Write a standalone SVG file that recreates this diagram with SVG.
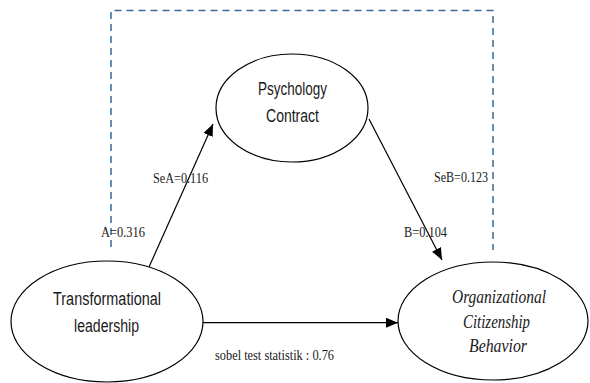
<svg xmlns="http://www.w3.org/2000/svg" width="590" height="383" viewBox="0 0 590 383">
  <style>
    .node { fill: #ffffff; stroke: #000000; stroke-width: 1.2; }
    .sans { font-family: "Liberation Sans", Arial, sans-serif; font-size: 17.5px; fill: #1a1a1a; text-anchor: middle; }
    .ital { font-family: "Liberation Serif", "Times New Roman", serif; font-style: italic; font-size: 18px; fill: #1a1a1a; text-anchor: middle; }
    .lbl { font-family: "Liberation Serif", "Times New Roman", serif; font-size: 15.5px; fill: #1a1a1a; }
    .edge { fill: none; stroke: #000000; stroke-width: 1.2; }
    .dash { fill: none; stroke: #3b6894; stroke-width: 1.5; stroke-dasharray: 7 5; }
  </style>
  <defs>
    <marker id="arrow" markerUnits="userSpaceOnUse" markerWidth="12" markerHeight="10" refX="12" refY="5" orient="auto">
      <path d="M0,0 L12,5 L0,10 Z" fill="#000000"/>
    </marker>
  </defs>
  <rect x="0" y="0" width="590" height="383" fill="#ffffff"/>

  <g id="connectors">
    <path id="dashed-box" class="dash" d="M111,247 L111,10.5 L493,10.5 L493,250"/>
    <line id="edge-tl-pc" class="edge" x1="149" y1="267" x2="213" y2="124" marker-end="url(#arrow)"/>
    <line id="edge-pc-ocb" class="edge" x1="369" y1="119" x2="442" y2="260" marker-end="url(#arrow)"/>
    <line id="edge-tl-ocb" class="edge" x1="203" y1="322.7" x2="398" y2="322.7" marker-end="url(#arrow)"/>
  </g>

  <g id="node-psychology-contract">
    <ellipse class="node" cx="292" cy="108" rx="76" ry="54"/>
    <text class="sans" x="292.5" y="95" textLength="69" lengthAdjust="spacingAndGlyphs">Psychology</text>
    <text class="sans" x="292.5" y="122" textLength="53" lengthAdjust="spacingAndGlyphs">Contract</text>
  </g>

  <g id="node-transformational-leadership">
    <ellipse class="node" cx="107" cy="321.5" rx="96" ry="60.5"/>
    <text class="sans" x="107" y="305" textLength="108" lengthAdjust="spacingAndGlyphs">Transformational</text>
    <text class="sans" x="106.5" y="332" textLength="65" lengthAdjust="spacingAndGlyphs">leadership</text>
  </g>

  <g id="node-ocb">
    <ellipse class="node" cx="493" cy="321" rx="95" ry="59"/>
    <text class="ital" x="499" y="303" textLength="94" lengthAdjust="spacingAndGlyphs">Organizational</text>
    <text class="ital" x="496.5" y="328" textLength="67" lengthAdjust="spacingAndGlyphs">Citizenship</text>
    <text class="ital" x="498" y="352" textLength="58" lengthAdjust="spacingAndGlyphs">Behavior</text>
  </g>

  <g id="labels">
    <text class="lbl" x="153" y="183" textLength="55" lengthAdjust="spacingAndGlyphs">SeA=0.116</text>
    <text class="lbl" x="101" y="237" textLength="44" lengthAdjust="spacingAndGlyphs">A=0.316</text>
    <text class="lbl" x="434" y="182" textLength="54" lengthAdjust="spacingAndGlyphs">SeB=0.123</text>
    <text class="lbl" x="404" y="237" textLength="43" lengthAdjust="spacingAndGlyphs">B=0.104</text>
    <text class="lbl" x="215" y="360" textLength="119" lengthAdjust="spacingAndGlyphs">sobel test statistik : 0.76</text>
  </g>
</svg>
